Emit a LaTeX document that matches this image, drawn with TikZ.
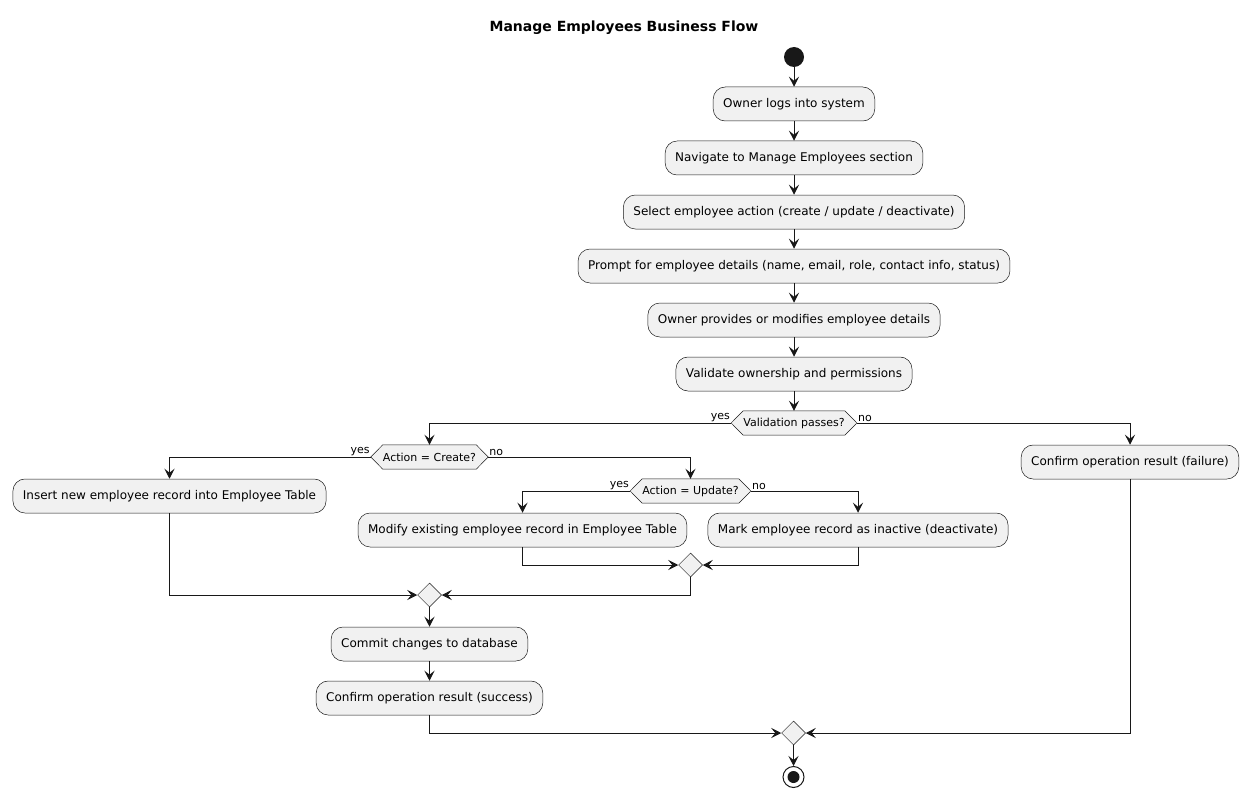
\documentclass[tikz,border=0pt]{standalone}
\usepackage{fontspec}
\setmainfont{DejaVu Sans}
\usetikzlibrary{arrows.meta,shapes.geometric,calc}
\pgfdeclarelayer{bg}
\pgfsetlayers{bg,main}
\definecolor{boxfill}{HTML}{F1F1F1}
\definecolor{ink}{HTML}{181818}
\tikzset{
  act/.style={draw=ink, line width=0.5pt, fill=boxfill, rounded corners=12pt,
    minimum height=34pt, inner xsep=10pt, inner ysep=0pt, font=\fontsize{12}{14}\selectfont},
  hextext/.style={inner xsep=0pt, inner ysep=0pt, minimum height=24pt, font=\fontsize{11}{13}\selectfont},
  hexshape/.style={draw=ink, line width=0.5pt, fill=boxfill},
  merge/.style={shape=diamond, draw=ink, line width=0.5pt, fill=boxfill, inner sep=0pt,
    minimum width=24pt, minimum height=24pt},
  arr/.style={draw=ink, line width=1pt, -{Stealth[length=10pt,width=10pt,inset=4pt]}},
  lbl/.style={inner sep=1pt, font=\fontsize{11}{13}\selectfont},
}
\begin{document}
\begin{tikzpicture}[x=1pt,y=-1pt]
\useasboundingbox (0,0) rectangle (1248,797);
\node[font=\fontsize{14}{16}\selectfont\bfseries] (title) at (624,28) {Manage Employees Business Flow};
\node[circle, fill=ink, minimum size=20pt, inner sep=0pt] (start) at (794,57) {};
\node[act] (b1) at (794,104) {Owner logs into system};
\node[act] (b2) at (794,158) {Navigate to Manage Employees section};
\node[act] (b3) at (794,212) {Select employee action (create / update / deactivate)};
\node[act] (b4) at (794,266) {Prompt for employee details (name, email, role, contact info, status)};
\node[act] (b5) at (794,320) {Owner provides or modifies employee details};
\node[act] (b6) at (794,374) {Validate ownership and permissions};
\node[hextext] (d1) at (794,423) {Validation passes?};
\node[act] (fail) at (1130,462) {Confirm operation result (failure)};
\node[hextext] (d2) at (429.5,457) {Action = Create?};
\node[act] (ins) at (169.5,496) {Insert new employee record into Employee Table};
\node[hextext] (d3) at (690.5,491) {Action = Update?};
\node[act] (mod) at (522.5,530) {Modify existing employee record in Employee Table};
\node[act] (mark) at (858,530) {Mark employee record as inactive (deactivate)};
\node[merge] (m1) at (690.5,565) {};
\node[merge] (m2) at (429.5,595) {};
\node[act] (commit) at (429.5,644) {Commit changes to database};
\node[act] (succ) at (429.5,698) {Confirm operation result (success)};
\node[merge] (m3) at (793.5,733) {};
\node[circle, draw=ink, line width=1pt, fill=white, minimum size=21pt, inner sep=0pt] (end) at (793.5,777) {};
\fill[ink] (end.center) circle (6pt);
% hexagon tips
\foreach \d in {d1,d2,d3}{
  \coordinate (\d w) at ([xshift=-12pt]\d.west);
  \coordinate (\d e) at ([xshift=12pt]\d.east);
}
\begin{pgfonlayer}{bg}
\foreach \d in {d1,d2,d3}{
  \draw[hexshape] (\d w) -- (\d.north west) -- (\d.north east) -- (\d e) -- (\d.south east) -- (\d.south west) -- cycle;
}
\end{pgfonlayer}
% labels
\node[lbl, anchor=south east] (l1y) at (d1w) {yes};
\node[lbl, anchor=south west] (l1n) at (d1e) {no};
\node[lbl, anchor=south east] (l2y) at (d2w) {yes};
\node[lbl, anchor=south west] (l2n) at (d2e) {no};
\node[lbl, anchor=south east] (l3y) at (d3w) {yes};
\node[lbl, anchor=south west] (l3n) at (d3e) {no};
% connectors
\draw[arr] (start) -- (b1);
\draw[arr] (b1) -- (b2);
\draw[arr] (b2) -- (b3);
\draw[arr] (b3) -- (b4);
\draw[arr] (b4) -- (b5);
\draw[arr] (b5) -- (b6);
\draw[arr] (b6) -- (d1);
\draw[arr] (d1w) -| (d2);
\draw[arr] (d1e) -| (fail);
\draw[arr] (d2w) -| (ins);
\draw[arr] (d2e) -| (d3);
\draw[arr] (d3w) -| (mod);
\draw[arr] (d3e) -| (mark);
\draw[arr] (mod) |- (m1);
\draw[arr] (mark) |- (m1);
\draw[arr] (m1) |- (m2);
\draw[arr] (ins) |- (m2);
\draw[arr] (m2) -- (commit);
\draw[arr] (commit) -- (succ);
\draw[arr] (succ) |- (m3);
\draw[arr] (fail) |- (m3);
\draw[arr] (m3) -- (end);
\end{tikzpicture}
\end{document}
